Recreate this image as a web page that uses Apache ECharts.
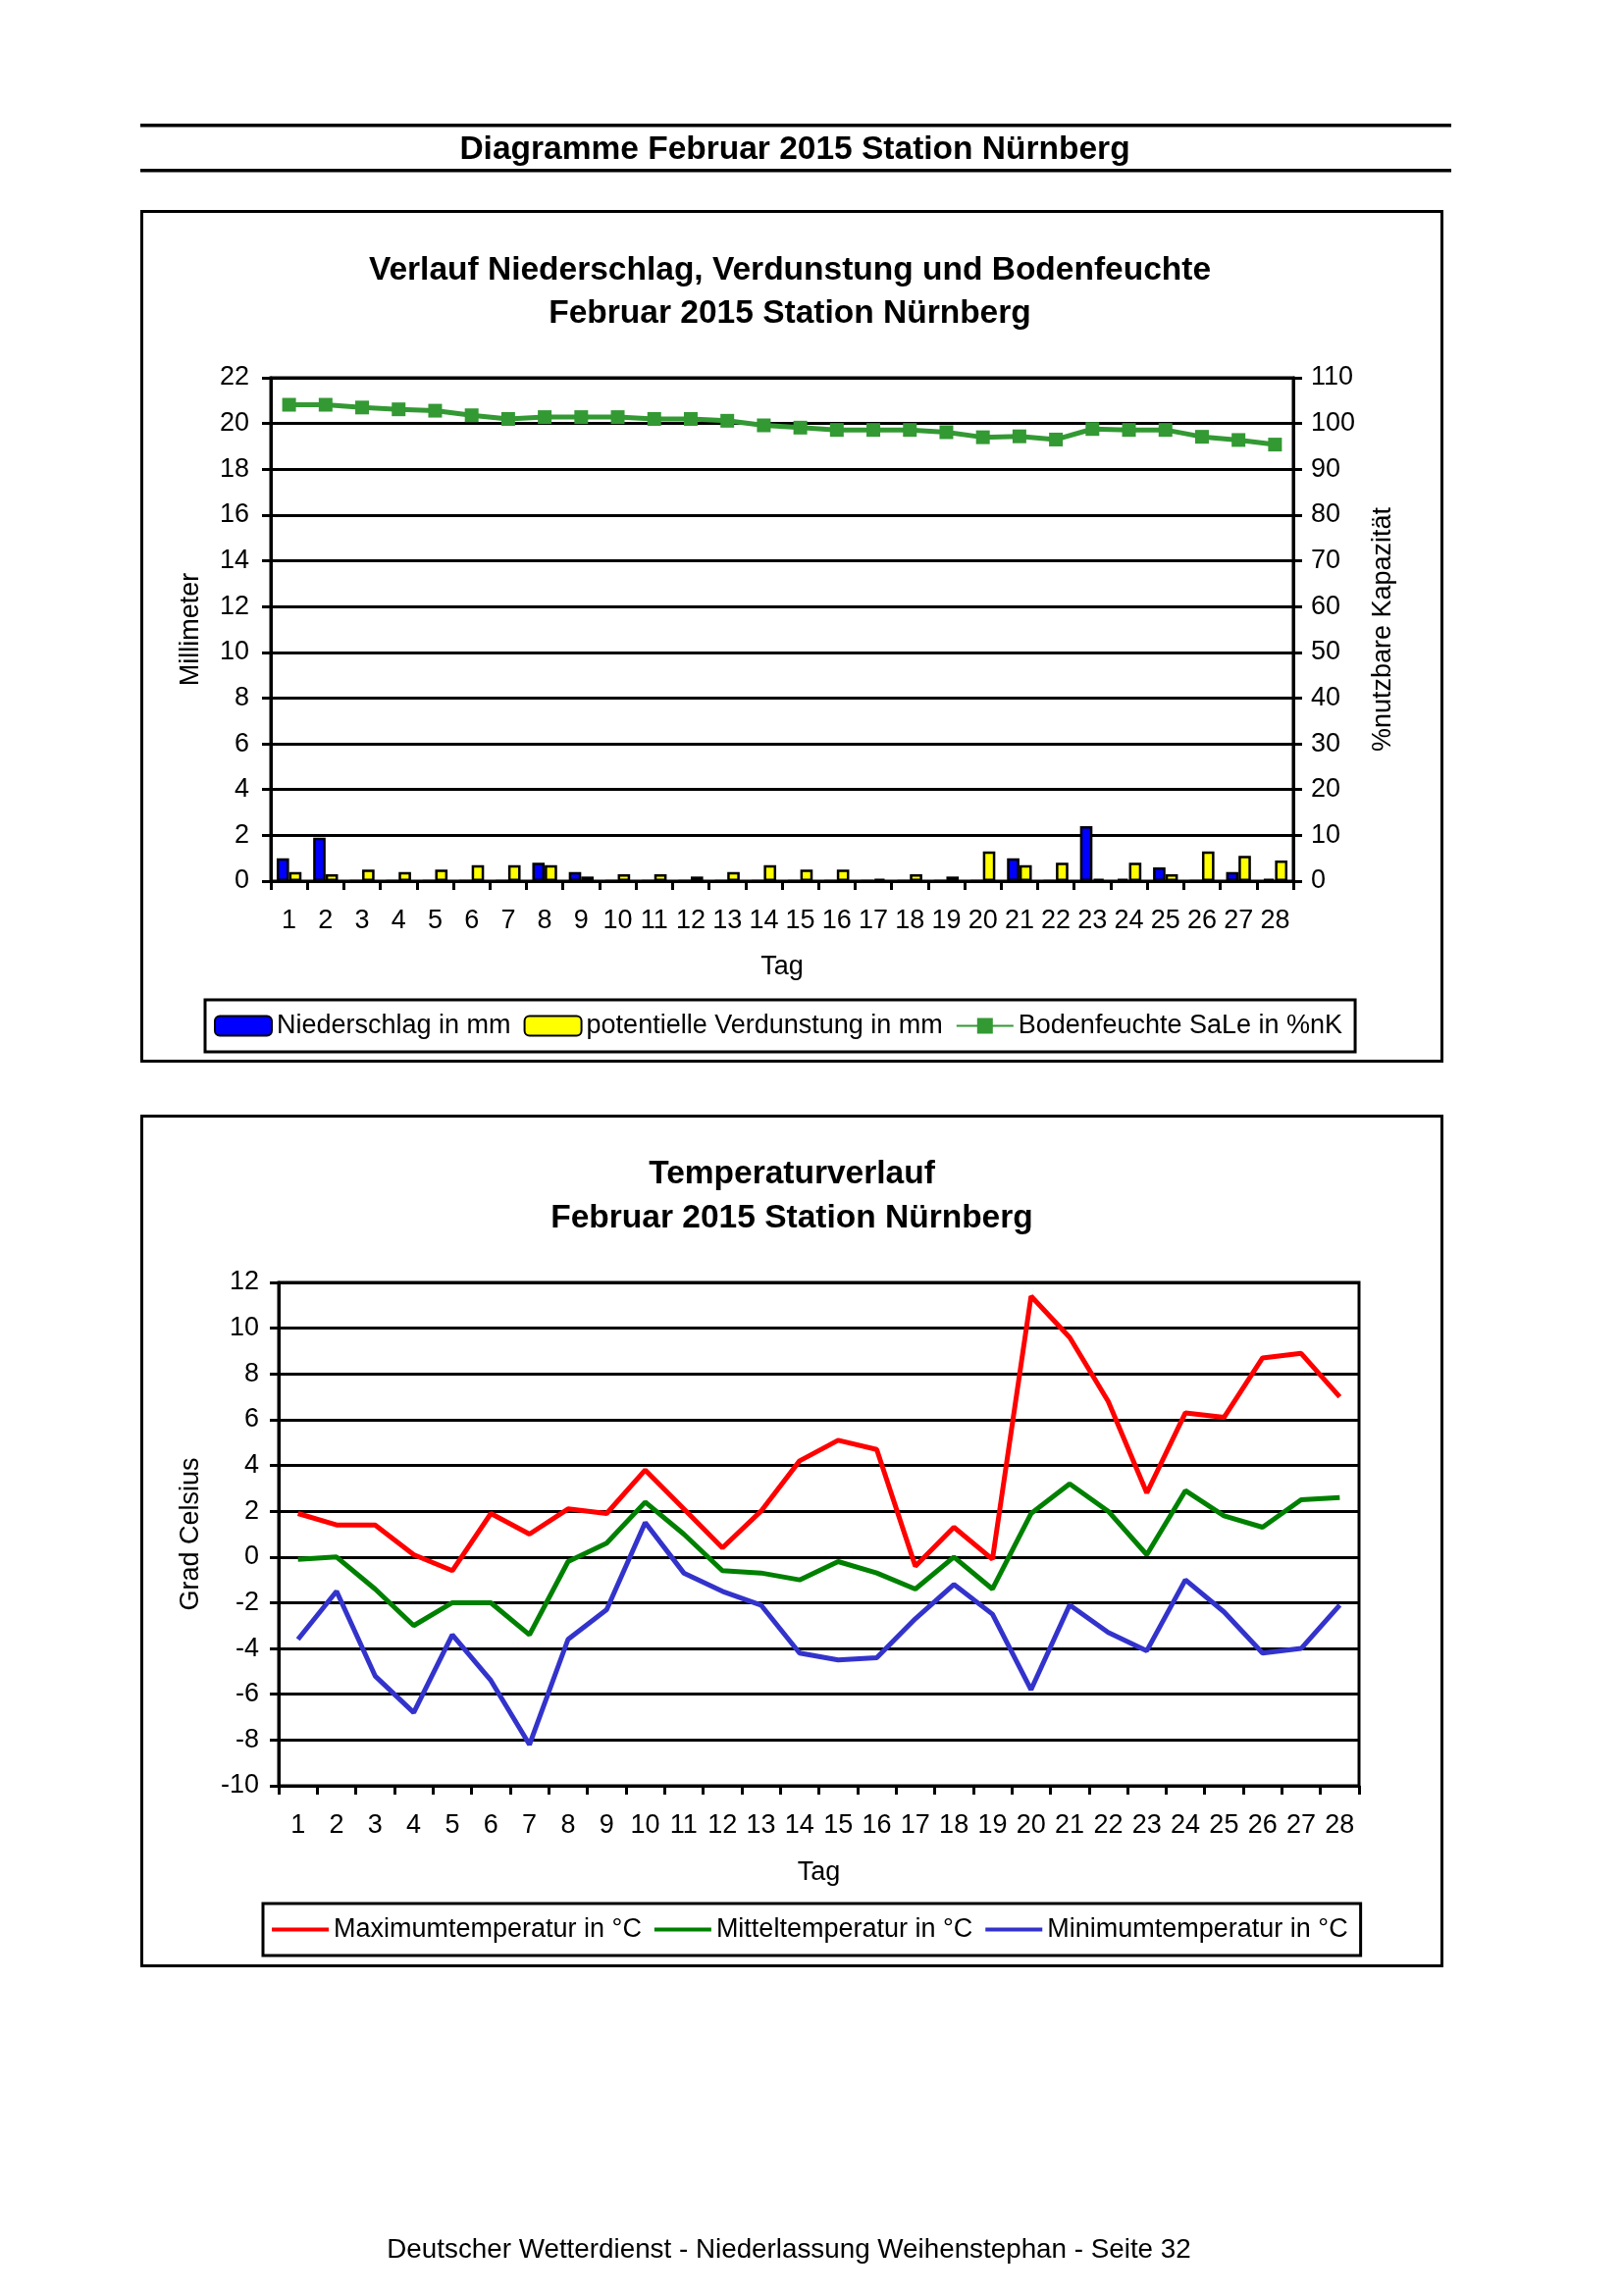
<!DOCTYPE html>
<html>
<head>
<meta charset="utf-8">
<script src="https://cdn.jsdelivr.net/npm/echarts@6/dist/echarts.min.js"></script>
<style>
html,body{margin:0;padding:0;background:#fff;}
#c{width:1653px;height:2340px;}
</style>
</head>
<body>
<div id="c"></div>
<script>
var days = ['1','2','3','4','5','6','7','8','9','10','11','12','13','14','15','16','17','18','19','20','21','22','23','24','25','26','27','28'];
var niederschlag = [1.0,1.9,0,0,0,0,0,0.8,0.4,0,0,0,0,0,0,0,0,0,0,0,1.0,0,2.4,0.1,0.6,0,0.4,0.1];
var verdunstung = [0.4,0.3,0.5,0.4,0.5,0.7,0.7,0.7,0.2,0.3,0.3,0.2,0.4,0.7,0.5,0.5,0.1,0.3,0.2,1.3,0.7,0.8,0.1,0.8,0.3,1.3,1.1,0.9];
var bodenfeuchte = [104.1,104.1,103.5,103.1,102.8,101.8,101.0,101.4,101.4,101.4,101.0,101.0,100.6,99.6,99.1,98.6,98.6,98.6,98.1,97.0,97.2,96.5,98.8,98.6,98.6,97.1,96.4,95.4];
var tmax = [1.9,1.4,1.4,0.1,-0.6,1.9,1.0,2.1,1.9,3.8,2.1,0.4,2.0,4.2,5.1,4.7,-0.4,1.3,-0.1,11.4,9.6,6.8,2.8,6.3,6.1,8.7,8.9,7.0];
var tmit = [-0.1,0.0,-1.4,-3.0,-2.0,-2.0,-3.4,-0.2,0.6,2.4,1.0,-0.6,-0.7,-1.0,-0.2,-0.7,-1.4,0.0,-1.4,1.9,3.2,2.0,0.1,2.9,1.8,1.3,2.5,2.6];
var tmin = [-3.6,-1.5,-5.2,-6.8,-3.4,-5.4,-8.2,-3.6,-2.3,1.5,-0.7,-1.5,-2.1,-4.2,-4.5,-4.4,-2.7,-1.2,-2.5,-5.8,-2.1,-3.3,-4.1,-1.0,-2.4,-4.2,-4.0,-2.1];

var FONT = '"Liberation Sans", Arial, sans-serif';
var chart = echarts.init(document.getElementById('c'), null, {renderer:'canvas'});

function catAxis(gi, gap, ngap){
  return {
    type:'category', gridIndex:gi, data:days, boundaryGap:true,
    axisLine:{onZero:false, lineStyle:{color:'#000', width:3}},
    axisTick:{show:true, inside:false, length:9, lineStyle:{color:'#000', width:3}},
    axisLabel:{color:'#000', fontSize:27, fontFamily:FONT, margin:gap, interval:0},
    name:'Tag', nameLocation:'middle', nameGap:ngap,
    nameTextStyle:{color:'#000', fontSize:27, fontFamily:FONT}
  };
}
function valAxis(gi, mn, mx, iv, pos, nm, ngap, lm){
  return {
    type:'value', gridIndex:gi, min:mn, max:mx, interval:iv, position:pos,
    axisLine:{show:true, lineStyle:{color:'#000', width:3}},
    axisTick:{show:true, length:9, lineStyle:{color:'#000', width:3}},
    splitLine:{show:pos==='left', lineStyle:{color:'#000', width:3}},
    axisLabel:{color:'#000', fontSize:27, fontFamily:FONT, margin:lm},
    name:nm, nameLocation:'middle', nameGap:ngap, nameRotate:90,
    nameTextStyle:{color:'#000', fontSize:27, fontFamily:FONT}
  };
}
var TB = 'bold 33.5px '+FONT;
var option = {
  backgroundColor:'#fff',
  animation:false,
  textStyle:{fontFamily:FONT},
  graphic:[
    {type:'rect', shape:{x:143,y:126,width:1336,height:3.5}, style:{fill:'#000'}},
    {type:'rect', shape:{x:143,y:172,width:1336,height:3.5}, style:{fill:'#000'}},
    {type:'text', x:810, y:152.5, style:{text:'Diagramme Februar 2015 Station Nürnberg', font:TB, fill:'#000', textAlign:'center', textVerticalAlign:'middle'}},
    {type:'rect', shape:{x:144.5,y:215.5,width:1325,height:866}, style:{fill:'none', stroke:'#000', lineWidth:3}},
    {type:'text', x:805, y:276, style:{text:'Verlauf Niederschlag, Verdunstung und Bodenfeuchte', font:TB, fill:'#000', textAlign:'center', textVerticalAlign:'middle'}},
    {type:'text', x:805, y:320, style:{text:'Februar 2015 Station Nürnberg', font:TB, fill:'#000', textAlign:'center', textVerticalAlign:'middle'}},
    {type:'rect', shape:{x:144.5,y:1137.5,width:1325,height:866}, style:{fill:'none', stroke:'#000', lineWidth:3}},
    {type:'text', x:807, y:1197, style:{text:'Temperaturverlauf', font:TB, fill:'#000', textAlign:'center', textVerticalAlign:'middle'}},
    {type:'text', x:807, y:1242, style:{text:'Februar 2015 Station Nürnberg', font:TB, fill:'#000', textAlign:'center', textVerticalAlign:'middle'}},
    {type:'text', x:804, y:2293, style:{text:'Deutscher Wetterdienst - Niederlassung Weihenstephan - Seite 32', font:'27.8px '+FONT, fill:'#000', textAlign:'center', textVerticalAlign:'middle'}}
  ],
  grid:[
    {left:276, top:385, width:1042, height:513, show:true, borderColor:'#000', borderWidth:3, backgroundColor:'transparent', containLabel:false},
    {left:284, top:1307, width:1101, height:513, show:true, borderColor:'#000', borderWidth:3, backgroundColor:'transparent', containLabel:false}
  ],
  legend:[
    {
      left:209, top:1019, orient:'horizontal',
      padding:[13,13,13,9], itemGap:13, itemWidth:58, itemHeight:20,
      borderColor:'#000', borderWidth:3,
      textStyle:{color:'#000', fontSize:27, fontFamily:FONT},
      data:['Niederschlag in mm','potentielle Verdunstung in mm','Bodenfeuchte SaLe in %nK']
    },
    {
      left:268, top:1940, orient:'horizontal',
      padding:[13,13,13,9], itemGap:13, itemWidth:58, itemHeight:4,
      borderColor:'#000', borderWidth:3,
      textStyle:{color:'#000', fontSize:27, fontFamily:FONT, lineHeight:25},
      data:[
        {name:'Maximumtemperatur in °C', icon:'rect'},
        {name:'Mitteltemperatur in °C', icon:'rect'},
        {name:'Minimumtemperatur in °C', icon:'rect'}
      ]
    }
  ],
  xAxis:[ catAxis(0, 27, 74), catAxis(1, 27, 75) ],
  yAxis:[
    valAxis(0, 0, 22, 2, 'left', 'Millimeter', 68, 22),
    valAxis(0, 0, 110, 10, 'right', '%nutzbare Kapazität', 78, 18),
    valAxis(1, -10, 12, 2, 'left', 'Grad Celsius', 76, 20)
  ],
  series:[
    {
      name:'Niederschlag in mm', type:'bar', xAxisIndex:0, yAxisIndex:0, data:niederschlag,
      barGap:'0%', barCategoryGap:'32%',
      itemStyle:{color:'#0000ff', borderColor:'#000', borderWidth:2.5}
    },
    {
      name:'potentielle Verdunstung in mm', type:'bar', xAxisIndex:0, yAxisIndex:0, data:verdunstung,
      barGap:'0%', barCategoryGap:'32%',
      itemStyle:{color:'#ffff00', borderColor:'#000', borderWidth:2.5}
    },
    {
      name:'Bodenfeuchte SaLe in %nK', type:'line', xAxisIndex:0, yAxisIndex:1, data:bodenfeuchte,
      symbol:'rect', symbolSize:14, showSymbol:true,
      lineStyle:{color:'#339933', width:5},
      itemStyle:{color:'#339933'}
    },
    {
      name:'Maximumtemperatur in °C', type:'line', xAxisIndex:1, yAxisIndex:2, data:tmax,
      symbol:'none', lineStyle:{color:'#ff0000', width:5}, itemStyle:{color:'#ff0000'}
    },
    {
      name:'Mitteltemperatur in °C', type:'line', xAxisIndex:1, yAxisIndex:2, data:tmit,
      symbol:'none', lineStyle:{color:'#008000', width:5}, itemStyle:{color:'#008000'}
    },
    {
      name:'Minimumtemperatur in °C', type:'line', xAxisIndex:1, yAxisIndex:2, data:tmin,
      symbol:'none', lineStyle:{color:'#3333cc', width:5}, itemStyle:{color:'#3333cc'}
    }
  ]
};
chart.setOption(option);
</script>
</body>
</html>
